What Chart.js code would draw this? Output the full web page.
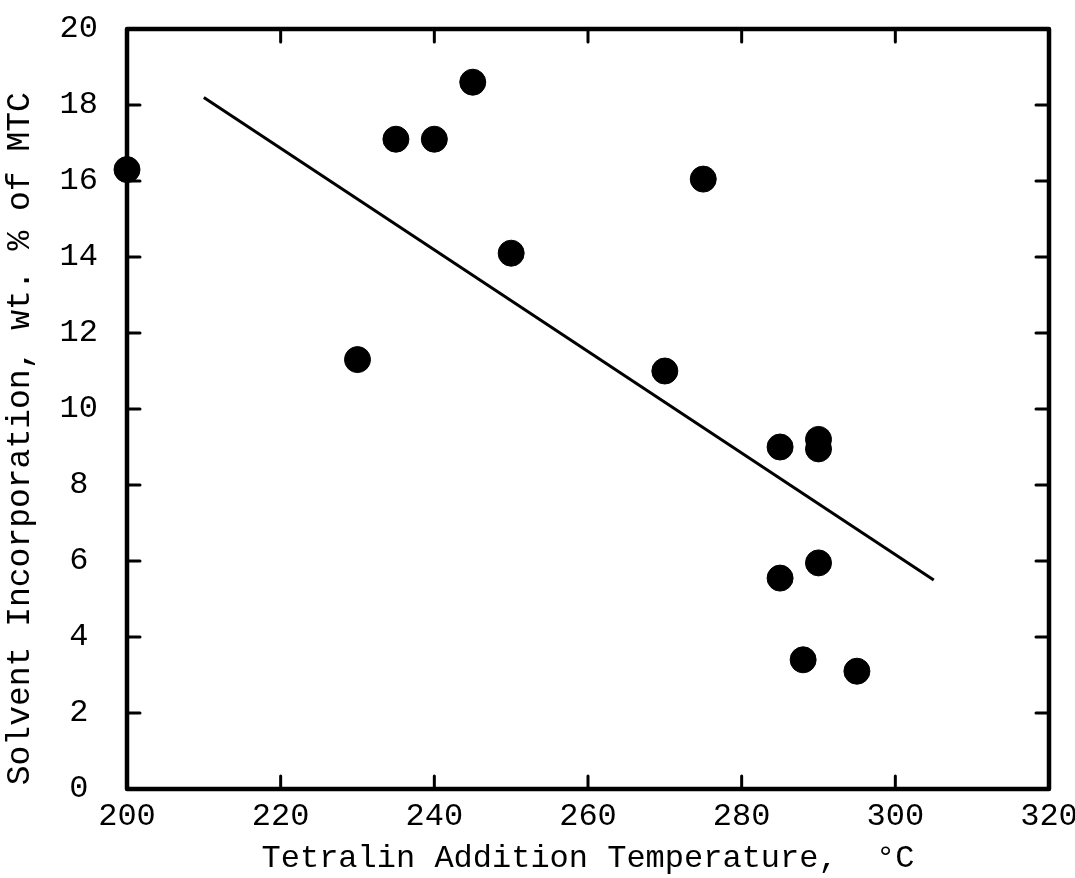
<!DOCTYPE html>
<html>
<head>
<meta charset="utf-8">
<script src="https://cdn.jsdelivr.net/npm/chart.js@4/dist/chart.umd.min.js"></script>
<style>
  html, body { margin: 0; padding: 0; background: #fff; }
  #wrap { width: 1075px; height: 878px; }
</style>
</head>
<body>
<div id="wrap"><canvas id="grafico"></canvas></div>
<script>
// Temperatura de adição da tetralina (°C) e incorporação de solvente (% em peso do MTC)
const temperaturas = [200, 230, 235, 240, 245, 250, 270, 275, 285, 290, 290, 285, 290, 288, 295];
const incorporacao = [16.3, 11.3, 17.1, 17.1, 18.6, 14.1, 11.0, 16.05, 9.0, 9.2, 8.95, 5.55, 5.95, 3.4, 3.1];

// Reta ajustada (extremos)
const retaX = [210, 305];
const retaY = [18.2, 5.5];

const eixoX = { min: 200, max: 320, passo: 20 };
const eixoY = { min: 0, max: 20, passo: 2 };

const fonte = "'Liberation Mono', 'Courier New', monospace";

// Moldura e marcas de escala voltadas para dentro, nos quatro lados
const molduraPlugin = {
    id: 'moldura',
    afterDatasetsDraw(chart) {
        const { ctx, chartArea: a, scales } = chart;
        const tam = 13;
        ctx.save();
        ctx.strokeStyle = '#000';
        ctx.lineWidth = 3;
        ctx.lineCap = 'round';
        scales.x.ticks.forEach(t => {
            if (t.value === eixoX.min || t.value === eixoX.max) return;
            const px = scales.x.getPixelForValue(t.value);
            ctx.beginPath();
            ctx.moveTo(px, a.bottom); ctx.lineTo(px, a.bottom - tam);
            ctx.moveTo(px, a.top); ctx.lineTo(px, a.top + tam);
            ctx.stroke();
        });
        scales.y.ticks.forEach(t => {
            if (t.value === eixoY.min || t.value === eixoY.max) return;
            const py = scales.y.getPixelForValue(t.value);
            ctx.beginPath();
            ctx.moveTo(a.left, py); ctx.lineTo(a.left + tam, py);
            ctx.moveTo(a.right, py); ctx.lineTo(a.right - tam, py);
            ctx.stroke();
        });
        ctx.lineWidth = 4.5;
        ctx.lineJoin = 'round';
        ctx.strokeRect(a.left, a.top, a.right - a.left, a.bottom - a.top);
        ctx.restore();
    }
};

function criarGrafico() {
    const ctx = document.getElementById('grafico').getContext('2d');
    new Chart(ctx, {
        type: 'scatter',
        data: {
            datasets: [
                {
                    label: 'Incorporação',
                    data: temperaturas.map((t, i) => ({ x: t, y: incorporacao[i] })),
                    backgroundColor: '#000',
                    borderColor: '#000',
                    pointRadius: 13,
                    pointHoverRadius: 13,
                    clip: false
                },
                {
                    type: 'line',
                    label: 'Ajuste',
                    data: retaX.map((x, i) => ({ x: x, y: retaY[i] })),
                    borderColor: '#000',
                    borderWidth: 3,
                    pointRadius: 0,
                    fill: false,
                    tension: 0
                }
            ]
        },
        options: {
            responsive: false,
            animation: false,
            devicePixelRatio: 1,
            layout: { padding: { left: 0, top: 29, right: 26, bottom: 0 } },
            plugins: { legend: { display: false }, tooltip: { enabled: false } },
            scales: {
                x: {
                    type: 'linear',
                    min: eixoX.min, max: eixoX.max,
                    grid: { display: false, drawTicks: false },
                    border: { display: false },
                    ticks: {
                        stepSize: eixoX.passo,
                        color: '#000',
                        padding: 8,
                        maxRotation: 0,
                        font: { family: fonte, size: 32 }
                    },
                    title: {
                        display: true,
                        text: 'Tetralin Addition Temperature,  °C',
                        color: '#000',
                        padding: 0,
                        font: { family: fonte, size: 32 }
                    },
                    afterFit(scale) {
                        scale.height = 89;
                        scale.paddingLeft = 0;
                        scale.paddingRight = 0;
                    }
                },
                y: {
                    min: eixoY.min, max: eixoY.max,
                    grid: { display: false, drawTicks: false },
                    border: { display: false },
                    ticks: {
                        stepSize: eixoY.passo,
                        color: '#000',
                        padding: 29,
                        crossAlign: 'center',
                        font: { family: fonte, size: 32 }
                    },
                    title: {
                        display: true,
                        text: 'Solvent Incorporation, wt. % of MTC   ',
                        color: '#000',
                        padding: 0,
                        font: { family: fonte, size: 33 }
                    },
                    afterFit(scale) {
                        scale.width = 127;
                        scale.paddingTop = 0;
                        scale.paddingBottom = 0;
                    }
                }
            }
        },
        plugins: [molduraPlugin]
    });
}

const canvas = document.getElementById('grafico');
canvas.width = 1075;
canvas.height = 878;
criarGrafico();
</script>
</body>
</html>
